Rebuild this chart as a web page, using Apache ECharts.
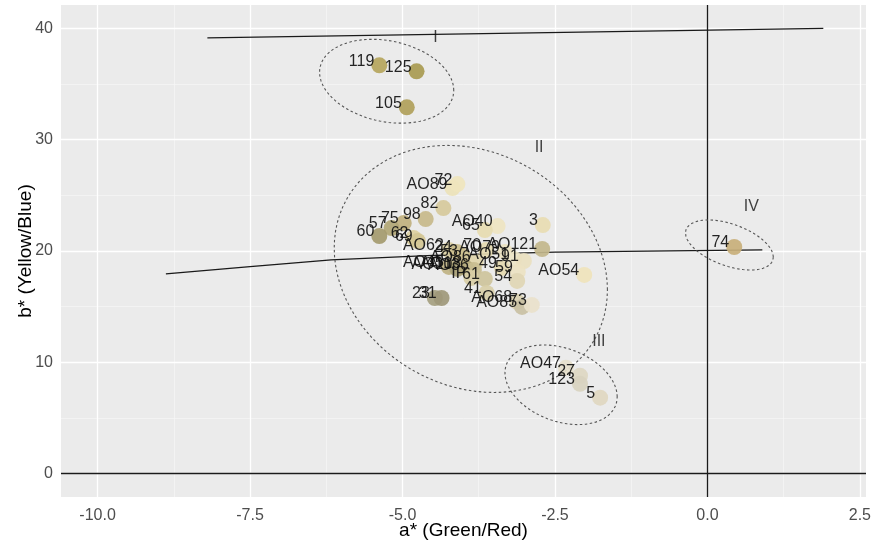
<!DOCTYPE html>
<html>
<head>
<meta charset="utf-8">
<script src="https://cdn.jsdelivr.net/npm/echarts@6/dist/echarts.min.js"></script>
<style>
html, body { margin: 0; padding: 0; background: #fff; }
#chart { width: 873px; height: 546px; }
</style>
</head>
<body>
<div id="chart"></div>
<script>
// sample labels with their a* / b* coordinates and sample colour
var sampleNames = ['119', '125', '105',
  'AO89', '72', '82', '98', '75', '57', '60', '62', '69', 'AO40', '65', '3',
  'AO62', '24', '53', '70', 'AO79', 'AO121', 'AO51', '91', 'AO86',
  'AO45', 'AO10', 'AO18', 'AO36', '49', '59', '54', 'IP', '61', '41',
  'AO68', 'AO85', '73', '23', '31', 'AO54',
  'AO47', '27', '123', '5',
  '74'];
var aValues = [-5.38, -4.77, -4.93,
  -4.18, -4.10, -4.33, -4.62, -4.98, -5.18, -5.38, -4.82, -4.75, -3.44, -3.65, -2.70,
  -4.24, -4.11, -4.01, -3.63, -3.32, -2.71, -3.17, -3.01, -3.80,
  -4.24, -4.10, -3.96, -3.83, -3.37, -3.11, -3.12, -3.87, -3.65, -3.62,
  -3.12, -3.04, -2.88, -4.47, -4.36, -2.02,
  -2.32, -2.09, -2.09, -1.76,
  0.44];
var bValues = [36.68, 36.14, 32.91,
  25.65, 26.01, 23.86, 22.87, 22.51, 22.06, 21.35, 21.17, 20.90, 22.24, 21.88, 22.33,
  20.09, 19.91, 19.55, 20.09, 19.91, 20.18, 19.28, 19.10, 19.01,
  18.57, 18.39, 18.48, 18.30, 18.48, 18.12, 17.31, 17.58, 17.49, 16.23,
  15.43, 14.98, 15.16, 15.78, 15.78, 17.85,
  9.51, 8.79, 8.07, 6.82,
  20.36];
var sampleColors = ['#b5a55c', '#a89a50', '#b0a05a',
  '#ece2b8', '#efe5bd', '#d6c99b', '#c7b98a', '#c0b07e', '#b1a675', '#a49a6e', '#dccf9e', '#d3c594', '#eee4c1', '#e6dbb0', '#e8dcb2',
  '#ddd2a6', '#c9bc8b', '#cfc290', '#e5dab0', '#ebe2c0', '#c2b68b', '#ede5c8', '#e9e0bf', '#e0d5aa',
  '#bfb283', '#a89f76', '#b3a87a', '#c8bd90', '#e4d9b0', '#ebe2c2', '#e0d6b4', '#d8cda5', '#cdc39b', '#d8cea7',
  '#d9d0b0', '#c9c0a3', '#e9e1cb', '#a59f80', '#9e987a', '#efe3bb',
  '#e6dfcb', '#ddd7c2', '#d8d2bf', '#dfd7c0',
  '#c8af79'];

var xTicks = [-10, -7.5, -5, -2.5, 0, 2.5];
var xMinor = [-8.75, -6.25, -3.75, -1.25, 1.25];
var yTicks = [0, 10, 20, 30, 40];
var yMinor = [5, 15, 25, 35];

var topLine = [[-8.2, 39.15], [1.9, 40.0]];
var midLine = [[-8.88, 17.94], [-7.5, 18.6], [-6.17, 19.2], [-4.5, 19.6], [-2.5, 19.9], [0.9, 20.1]];

// group ellipses: centre, conjugate half-axes (data units)
var groupNames = ['I', 'II', 'III', 'IV'];
var groupLabelA = [-4.46, -2.76, -1.78, 0.72];
var groupLabelB = [39.2, 29.3, 11.9, 24.0];
var ellCenter = [[-5.26, 35.25], [-3.88, 18.39], [-2.40, 7.98], [0.36, 20.54]];
var ellU = [[1.10, -0.81], [2.24, -1.88], [0.92, -1.08], [0.72, -1.08]];
var ellV = [[0, 3.68], [0, 10.94], [0, 3.41], [0, 1.97]];

var FONT = 'Liberation Sans, Arial, sans-serif';

function outline(c, u, v) {
  var pts = [];
  for (var i = 0; i <= 90; i++) {
    var t = i / 90 * Math.PI * 2;
    pts.push([c[0] + u[0] * Math.cos(t) + v[0] * Math.sin(t), c[1] + u[1] * Math.cos(t) + v[1] * Math.sin(t)]);
  }
  return pts;
}

var points = sampleNames.map(function(n, i) {
  return { name: n, value: [aValues[i], bValues[i]], itemStyle: { color: sampleColors[i] } };
});

var gridLines = [];
xMinor.forEach(function(v) { gridLines.push({ xAxis: v, lineStyle: { color: '#f7f7f7', width: 0.7 } }); });
yMinor.forEach(function(v) { gridLines.push({ yAxis: v, lineStyle: { color: '#f7f7f7', width: 0.7 } }); });
xTicks.forEach(function(v) { gridLines.push({ xAxis: v, lineStyle: { color: '#ffffff', width: 1.3 } }); });
yTicks.forEach(function(v) { gridLines.push({ yAxis: v, lineStyle: { color: '#ffffff', width: 1.3 } }); });

var series = [];
series.push({
  type: 'scatter', data: [], silent: true, z: 1,
  markLine: { silent: true, z: 1, symbol: 'none', label: { show: false }, animation: false, lineStyle: { type: 'solid' }, data: gridLines }
});
series.push({
  type: 'scatter', data: [], silent: true, z: 2,
  markLine: { silent: true, z: 2, symbol: 'none', label: { show: false }, animation: false,
    lineStyle: { type: 'solid', color: '#1a1a1a', width: 1.3 },
    data: [{ xAxis: 0 }, { yAxis: 0 }] }
});
[topLine, midLine].forEach(function(d) {
  series.push({ type: 'line', data: d, symbol: 'none', z: 2, silent: true, animation: false,
    lineStyle: { color: '#1a1a1a', width: 1.3 } });
});
ellCenter.forEach(function(c, i) {
  series.push({ type: 'line', data: outline(c, ellU[i], ellV[i]), symbol: 'none', z: 2, silent: true, animation: false,
    lineStyle: { color: '#555555', width: 1.1, type: [2.5, 2.5] } });
});
series.push({
  type: 'scatter', data: points, symbolSize: 16, z: 3, animation: false,
  itemStyle: { opacity: 0.92 },
  label: {
    show: true, formatter: '{b}', position: [3, 4], align: 'right', verticalAlign: 'middle',
    color: '#111', fontSize: 16, fontFamily: FONT
  }
});
series.push({
  type: 'scatter', z: 4, symbolSize: 1, itemStyle: { color: 'transparent' }, animation: false,
  data: groupNames.map(function(n, i) { return { name: n, value: [groupLabelA[i], groupLabelB[i]] }; }),
  label: { show: true, formatter: '{b}', position: 'inside', color: '#111', fontSize: 16, fontFamily: FONT }
});

var chart = echarts.init(document.getElementById('chart'));
chart.setOption({
  animation: false,
  grid: { left: 61, right: 7, top: 5, bottom: 49, show: true, backgroundColor: '#ebebeb', borderWidth: 0,
    outerBoundsMode: 'none', containLabel: false },
  xAxis: {
    type: 'value', min: -10.6, max: 2.6,
    name: 'a* (Green/Red)', nameLocation: 'middle', nameGap: 24, nameMoveOverlap: false,
    nameTextStyle: { color: '#000', fontSize: 19, fontFamily: FONT, verticalAlign: 'top' },
    axisLine: { show: false },
    axisTick: { show: true, customValues: xTicks, length: 5, lineStyle: { color: '#555' } },
    axisLabel: { customValues: xTicks, color: '#4d4d4d', fontSize: 16, fontFamily: FONT, margin: 11,
      formatter: function(v) { return v.toFixed(1); } },
    splitLine: { show: false }
  },
  yAxis: {
    type: 'value', min: -2.1, max: 42.1,
    name: 'b* (Yellow/Blue)', nameLocation: 'middle', nameGap: 26, nameMoveOverlap: false,
    nameTextStyle: { color: '#000', fontSize: 19, fontFamily: FONT },
    axisLine: { show: false },
    axisTick: { show: true, customValues: yTicks, length: 5, lineStyle: { color: '#555' } },
    axisLabel: { customValues: yTicks, color: '#4d4d4d', fontSize: 16, fontFamily: FONT, margin: 8 },
    splitLine: { show: false }
  },
  series: series
});
</script>
</body>
</html>
